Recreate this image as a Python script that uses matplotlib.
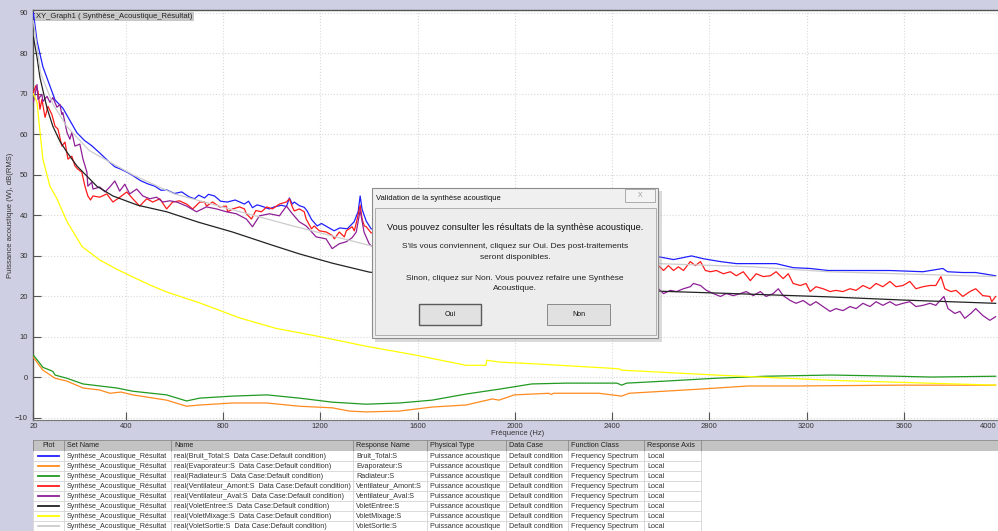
import matplotlib
matplotlib.use("Agg")
import matplotlib.pyplot as plt
from matplotlib.patches import Rectangle

plt.rcParams['font.family'] = ['Liberation Sans', 'DejaVu Sans']

# --- data (frequency in Hz, level in dB) ---
blue_f = [20, 35, 59, 109, 141, 199, 230, 260, 293, 330, 355, 380, 404, 430, 460, 490, 520, 545,
          568, 600, 630, 660, 683, 700, 724, 740, 765, 790, 818, 850, 888, 905, 921, 940, 958,
          990, 1011, 1040, 1061, 1073, 1085, 1093, 1114, 1134, 1146, 1164, 1187, 1205, 1228,
          1257, 1280, 1311, 1339, 1356, 1364, 1372, 1389, 1409, 1700, 2000, 2300,
          2591, 2653, 2727, 2776, 2846, 2911, 2981, 3075, 3145, 3215, 3289, 3404, 3543, 3679,
          3761, 3780, 3843, 3896, 3978]
blue_db = [90, 83, 76.7, 68.5, 66.5, 60.4, 58.5, 57.2, 55.4, 53.3, 52.0, 51.4, 50.7, 49.8, 48.6,
           47.8, 47.2, 46.2, 46.3, 45.4, 45.8, 44.6, 44.1, 45.0, 44.3, 45.2, 44.8, 43.5, 43.3,
           43.8, 42.8, 43.5, 41.9, 42.6, 42.3, 41.6, 42.1, 42.5, 42.2, 44.3, 42.8, 43.3, 42.4,
           42.0, 41.1, 39.0, 37.4, 38.0, 37.2, 36.2, 36.9, 36.7, 38.4, 41.0, 44.8, 41.5, 38.6,
           36.7, 33.5, 31.5, 30.5,
           29.8, 29.1, 30.0, 29.3, 28.6, 28.1, 28.1, 28.1, 27.1, 26.9, 26.4, 26.4, 26.4, 26.1,
           26.9, 26.1, 25.9, 25.9, 25.1]

orange_f = [20, 40, 59, 109, 158, 224, 293, 335, 380, 429, 568, 650, 704, 840, 980, 1114, 1250,
            1320, 1389, 1525, 1660, 1799, 1908, 1935, 1998, 2140, 2150, 2160, 2345, 2440, 2470,
            2756, 2961, 3166, 3576, 3978]
orange_db = [5.0, 3.3, 1.8, -0.2, -0.9, -2.6, -3.1, -3.9, -3.6, -4.3, -5.6, -7.1, -6.8, -6.3,
             -6.3, -7.1, -7.5, -8.3, -8.5, -8.3, -7.3, -6.8, -5.3, -5.6, -4.3, -3.9, -4.2, -3.9,
             -3.9, -4.6, -3.9, -2.9, -2.1, -2.1, -1.9, -1.9]

green_f = [20, 40, 59, 88, 100, 109, 158, 224, 293, 363, 429, 568, 650, 704, 840, 980, 1114,
           1250, 1389, 1525, 1660, 1799, 1935, 2070, 2209, 2420, 2440, 2460, 2619, 2825, 3030,
           3301, 3576, 3712, 3978]
green_db = [5.5, 4.0, 2.5, 1.8, 1.5, 0.6, -0.2, -1.6, -2.1, -2.6, -3.4, -4.3, -5.8, -5.1, -4.6,
            -4.3, -5.1, -6.1, -6.6, -6.3, -5.6, -4.1, -2.9, -1.6, -1.4, -1.4, -1.9, -1.4, -0.9,
            -0.2, 0.3, 0.6, 0.3, 0.1, 0.3]

red_f = [20, 30, 39, 47, 55, 68, 80, 96, 109, 121, 137, 150, 162, 178, 191, 203, 219, 232, 244,
         255, 265, 293, 322, 347, 376, 404, 429, 457, 486, 511, 540, 568, 593, 621, 650, 675,
         691, 704, 724, 732, 757, 786, 814, 819, 840, 868, 888, 896, 917, 935, 958, 980, 1003,
         1032, 1060, 1073, 1085, 1093, 1114, 1134, 1142, 1164, 1175, 1196, 1225, 1250, 1258,
         1278, 1299, 1307, 1331, 1340, 1352, 1364, 1372, 1381, 1389, 1409, 1700, 2000, 2300,
         2591, 2612, 2632, 2653, 2673, 2694, 2722, 2743, 2764, 2784, 2805, 2829, 2858, 2887,
         2911, 2940, 2969, 2993, 3022, 3051, 3075, 3104, 3125, 3145, 3174, 3198, 3215, 3239,
         3268, 3297, 3321, 3350, 3379, 3404, 3432, 3461, 3486, 3514, 3543, 3568, 3597, 3625,
         3650, 3679, 3708, 3732, 3753, 3769, 3794, 3815, 3843, 3872, 3896, 3925, 3954, 3962, 3978]
red_db = [70.3, 72.0, 70.6, 66.2, 68.6, 64.2, 66.9, 64.9, 62.0, 61.3, 57.1, 58.1, 53.9, 54.6,
          52.2, 51.4, 50.7, 47.2, 44.8, 43.8, 44.8, 44.5, 45.3, 43.3, 44.5, 45.8, 44.1, 42.3,
          44.1, 43.3, 44.1, 41.6, 43.3, 43.6, 42.8, 41.6, 42.5, 43.3, 43.3, 42.3, 43.3, 42.1,
          42.3, 40.9, 41.6, 42.1, 41.6, 40.4, 39.1, 41.2, 40.9, 42.1, 41.6, 42.8, 43.3, 44.1,
          42.1, 41.1, 41.6, 40.9, 39.1, 36.7, 37.4, 36.2, 35.9, 35.0, 34.2, 35.9, 34.7, 36.2,
          37.2, 36.2, 39.1, 42.5, 39.1, 37.4, 37.2, 35.7, 33.0, 31.0, 29.0,
          27.6, 26.4, 27.6, 26.4, 27.3, 26.4, 28.6, 27.6, 28.6, 26.4, 26.1, 26.4, 25.6, 26.1,
          25.1, 26.1, 23.9, 25.6, 24.9, 25.1, 26.1, 24.4, 25.6, 23.2, 22.7, 23.2, 21.2, 22.4,
          21.9, 21.2, 21.5, 21.2, 21.9, 21.5, 22.7, 21.9, 23.2, 22.4, 23.7, 22.4, 22.7, 23.7,
          21.9, 22.4, 22.7, 22.7, 24.9, 21.9, 21.2, 21.5, 20.0, 21.2, 21.9, 20.2, 20.0, 18.7, 20.0]

purple_f = [20, 35, 39, 55, 59, 76, 88, 100, 117, 129, 137, 141, 158, 170, 178, 191, 211, 224,
            240, 244, 260, 265, 293, 315, 334, 355, 375, 396, 416, 445, 470, 499, 527, 552, 581,
            610, 650, 691, 732, 773, 814, 855, 896, 921, 950, 991, 1032, 1061, 1085, 1114, 1142,
            1183, 1224, 1249, 1278, 1307, 1331, 1348, 1364, 1380, 1401, 1409, 1700, 2000, 2300,
            2591, 2612, 2640, 2665, 2694, 2722, 2735, 2764, 2788, 2817, 2846, 2870, 2899, 2928,
            2952, 2981, 3010, 3034, 3063, 3084, 3104, 3133, 3157, 3186, 3215, 3239, 3268, 3297,
            3321, 3350, 3379, 3404, 3432, 3461, 3486, 3514, 3543, 3568, 3597, 3625, 3650, 3679,
            3708, 3732, 3765, 3782, 3810, 3831, 3851, 3876, 3896, 3925, 3954, 3978]
purple_db = [68.0, 72.3, 68.6, 69.9, 68.1, 69.4, 67.9, 69.1, 66.7, 67.4, 64.9, 65.4, 60.5, 58.8,
             60.5, 57.1, 57.6, 53.9, 50.7, 47.2, 48.2, 46.5, 47.0, 45.8, 47.0, 48.5, 46.0, 47.7,
             45.3, 46.5, 44.8, 44.1, 44.5, 43.3, 43.6, 43.3, 42.3, 40.9, 42.1, 41.6, 40.9, 40.4,
             39.1, 37.2, 39.9, 40.4, 39.9, 42.3, 40.4, 38.4, 37.4, 34.7, 34.2, 31.8, 33.0, 33.5,
             34.5, 35.9, 41.3, 35.9, 33.0, 32.5, 28.0, 25.0, 23.0,
             21.9, 20.7, 21.5, 21.2, 21.9, 22.4, 23.2, 22.7, 21.5, 20.7, 20.0, 20.7, 20.2, 20.7,
             21.2, 20.2, 21.2, 20.0, 20.7, 21.9, 20.2, 19.0, 18.3, 19.0, 17.8, 18.7, 17.5, 16.3,
             17.0, 16.5, 17.5, 17.0, 18.3, 17.5, 18.7, 17.8, 18.7, 17.8, 18.3, 18.7, 17.5, 17.8,
             18.3, 17.8, 20.0, 17.0, 15.8, 16.3, 14.6, 15.8, 17.0, 15.3, 14.1, 15.0]

black_f = [20, 35, 47, 76, 100, 129, 158, 199, 240, 281, 347, 450, 568, 700, 839, 1000, 1114,
           1250, 1402, 1800, 2200, 2591, 2900, 3289, 3600, 3978]
black_db = [84, 79, 74, 66.5, 62.0, 58.3, 55.6, 52.2, 49.7, 47.2, 44.8, 42.5, 40.9, 38.3, 35.9,
            32.7, 30.5, 28.2, 26.0, 23.4, 22.2, 21.3, 20.7, 19.9, 19.1, 18.3]

yellow_f = [20, 35, 43, 59, 88, 117, 158, 220, 293, 360, 429, 500, 568, 704, 868, 1019, 1196,
            1389, 1594, 1799, 1881, 1885, 1935, 2070, 2387, 2430, 2440, 2825, 3301, 3978]
yellow_db = [70, 67.9, 63, 53.9, 47.2, 44.1, 38.5, 32.3, 29, 26.8, 24.8, 22.8, 21.1, 18.4, 14.7,
             12.1, 10.1, 7.7, 5.5, 3.0, 3.0, 4.25, 3.8, 3.4, 2.3, 2.1, 1.8, 0.6, -0.7, -1.9]

gray_f = [20, 50, 100, 158, 250, 429, 600, 840, 1100, 1389, 1409, 2000, 2591, 2981, 3289, 3978]
gray_db = [88, 75, 67.5, 61.9, 56, 50, 45.3, 41.4, 37.2, 32.8, 32.5, 30.0, 28.1, 27.3, 26.1, 24.9]

series_names = ['Bruit_Total', 'Evaporateur', 'Radiateur', 'Ventilateur_Amont',
                'Ventilateur_Aval', 'VoletEntree', 'VoletMixage', 'VoletSortie']
series_colors = ['#2020ff', '#ff8a1e', '#219a21', '#ff1a1a', '#8e1f96', '#222222',
                 '#ffff00', '#cccccc']
series_data = [(blue_f, blue_db), (orange_f, orange_db), (green_f, green_db), (red_f, red_db),
               (purple_f, purple_db), (black_f, black_db), (yellow_f, yellow_db),
               (gray_f, gray_db)]

x_ticks = [20, 400, 800, 1200, 1600, 2000, 2400, 2800, 3200, 3600, 4000]
x_labels = ['20', '400', '800', '1200', '1600', '2000', '2400', '2800', '3200', '3600', '']
y_ticks = [-10, 0, 10, 20, 30, 40, 50, 60, 70, 80, 90]

col_edges = [33, 64, 171, 353, 427, 506, 568, 644, 701]
col_titles = ['Plot', 'Set Name', 'Name', 'Response Name', 'Physical Type', 'Data Case',
              'Function Class', 'Response Axis']

W, H = 998, 531
bg = '#cfcfe3'

fig = plt.figure(figsize=(W / 100, H / 100), dpi=100, facecolor=bg)
ax = fig.add_axes([33.4 / W, 1 - 420 / H, (1001 - 33.4) / W, 410 / H])
ax.set_facecolor('white')

order = [7, 6, 5, 1, 2, 0, 4, 3]
for i in order:
    f, db = series_data[i]
    ax.plot(f, db, color=series_colors[i], lw=0.9, zorder=3 + i * 0.01)

ax.set_xlim(20, 4000)
ax.set_ylim(-10.5, 90.7)
ax.set_xticks(x_ticks)
ax.set_xticklabels(x_labels)
ax.set_yticks(y_ticks)
ax.grid(True, color='#d9d9d9', linestyle=':', linewidth=0.8)
ax.tick_params(direction='in', length=6, width=0.8, color='#555555', labelsize=5.5,
               labelcolor='#333333')
ax.tick_params(axis='y', pad=4)
ax.tick_params(axis='x', pad=2)
for s in ['left', 'top']:
    ax.spines[s].set_color('#555555')
    ax.spines[s].set_linewidth(1.0)
ax.spines['bottom'].set_color('#777777')
ax.spines['right'].set_visible(False)
ax.set_xlabel('Fréquence (Hz)', fontsize=5.5, color='#333333', labelpad=0)
ax.set_ylabel('Puissance acoustique (W), dB(RMS)', fontsize=5.5, color='#333333', labelpad=1)
ax.text(0.003, 0.992, 'XY_Graph1 ( Synthèse_Acoustique_Résultat)', transform=ax.transAxes,
        fontsize=5.5, va='top', ha='left', color='#222222',
        bbox=dict(boxstyle='square,pad=0.15', fc='#c8c8c8', ec='none'))

# overlay in pixel coordinates for the dialog and the table
ov = fig.add_axes([0, 0, 1, 1], zorder=10)
ov.set_xlim(0, W)
ov.set_ylim(H, 0)
ov.axis('off')
ov.patch.set_alpha(0)

# last x tick label sits at the right edge of the window
ov.text(997, 426, '4000', fontsize=5.5, color='#333333', ha='right', va='center')

# dialog box
ov.add_patch(Rectangle((375, 191), 287, 151, fc='#9a9a9a', ec='none', alpha=0.35))
ov.add_patch(Rectangle((372, 188), 286, 150, fc='#f0f0f0', ec='#8c8c8c', lw=0.8))
ov.add_patch(Rectangle((375, 208), 281, 127, fc='#ededed', ec='#b0b0b0', lw=0.7))
ov.add_patch(Rectangle((625, 189), 30, 13, fc='#f4f4f4', ec='#a0a0a0', lw=0.6))
ov.text(640, 195.5, 'X', fontsize=5, color='#9a9a9a', ha='center', va='center')
ov.text(376, 199, 'Validation de la synthèse acoustique', fontsize=5.5, color='#111111',
        va='center', ha='left')
ov.text(515, 227, 'Vous pouvez consulter les résultats de la synthèse acoustique.',
        fontsize=6.6, color='#111111', ha='center', va='center')
ov.text(515, 247, "S'ils vous conviennent, cliquez sur Oui. Des post-traitements",
        fontsize=6, color='#222222', ha='center', va='center')
ov.text(515, 257.5, 'seront disponibles.', fontsize=6, color='#222222', ha='center', va='center')
ov.text(515, 278, 'Sinon, cliquez sur Non. Vous pouvez refaire une Synthèse',
        fontsize=6, color='#222222', ha='center', va='center')
ov.text(515, 289, 'Acoustique.', fontsize=6, color='#222222', ha='center', va='center')
ov.add_patch(Rectangle((419, 304), 62, 21, fc='#e1e1e1', ec='#5a5a5a', lw=1.0))
ov.add_patch(Rectangle((547, 304), 63, 21, fc='#e1e1e1', ec='#8a8a8a', lw=0.7))
ov.text(450, 314.5, 'Oui', fontsize=5, color='#111111', ha='center', va='center')
ov.text(578.5, 314.5, 'Non', fontsize=5, color='#111111', ha='center', va='center')

# table below the graph
ov.add_patch(Rectangle((33, 440), W - 33, 11, fc='#c3c3c3', ec='#8a8a8a', lw=0.6))
ov.add_patch(Rectangle((33, 451), W - 33, 80, fc='white', ec='none'))
for x in col_edges:
    ov.plot([x, x], [440, 451], color='#8a8a8a', lw=0.6)
    ov.plot([x, x], [451, 531], color='#d4d4d4', lw=0.6)
for j, t in enumerate(col_titles):
    if j == 0:
        ov.text((col_edges[0] + col_edges[1]) / 2, 445.5, t, fontsize=5.2, color='#222222',
                ha='center', va='center')
    else:
        ov.text(col_edges[j] + 3, 445.5, t, fontsize=5.2, color='#222222', ha='left',
                va='center')
for i, name in enumerate(series_names):
    yc = 456 + i * 10
    ov.plot([col_edges[0], col_edges[-1]], [yc + 5, yc + 5], color='#d4d4d4', lw=0.6)
    ov.plot([38, 59], [yc, yc], color=series_colors[i], lw=1.3)
    cells = ['Synthèse_Acoustique_Résultat',
             'real(' + name + ':S  Data Case:Default condition)',
             name + ':S', 'Puissance acoustique', 'Default condition',
             'Frequency Spectrum', 'Local']
    for j, c in enumerate(cells):
        ov.text(col_edges[j + 1] + 3, yc, c, fontsize=5.2, color='#333333', ha='left',
                va='center', clip_on=True)

fig.savefig('out.png', dpi=100, facecolor=bg)
